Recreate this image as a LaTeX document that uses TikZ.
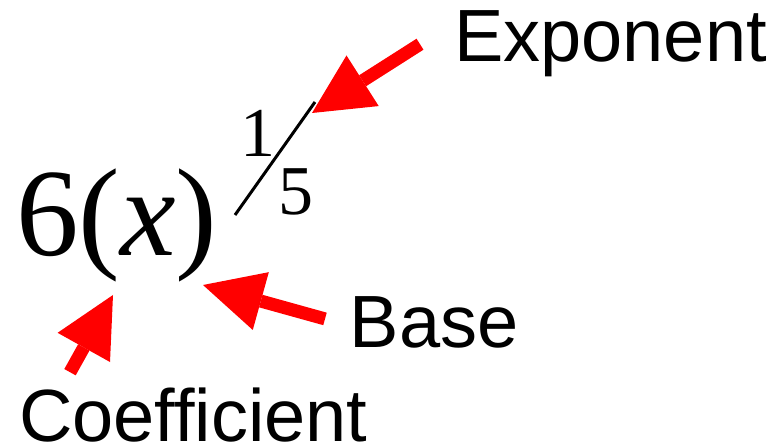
\documentclass[tikz,border=0pt]{standalone}
\usepackage{fontspec}
\setmainfont{Liberation Serif}
\setsansfont{Liberation Sans}
\usetikzlibrary{arrows.meta}

\begin{document}
\begin{tikzpicture}[
        x=1pt, y=1pt,
        every node/.style={inner sep=0pt, anchor=base west},
        lbl/.style={font=\sffamily\fontsize{74}{80}\selectfont},
        big/.style={font=\fontsize{125}{130}\selectfont},
        small/.style={font=\fontsize{70}{75}\selectfont},
        pointer/.style={draw=red, line width=13pt,
                        -{Triangle[length=60pt, width=60pt, line width=0pt]}}
    ]
        \useasboundingbox (0,0) rectangle (776,447);
        % the expression
        \node[big] (expr) at (16,191) {6(\textit{x})};
        \node[small] (num) at (240,290) {1};
        \node[small] (den) at (278,232) {5};
        \coordinate (slash-lo) at (235,232);
        \coordinate (slash-hi) at (315,345);
        \draw[line width=3pt] (slash-lo) -- (slash-hi);
        % the labels
        \node[lbl] (expo) at (454,385) {Exponent};
        \node[lbl] (base) at (349.5,99) {Base};
        \node[lbl] (coef) at (19,6) {Coefficient};
        % where the arrows point
        \coordinate (expo-tip) at (312,334);
        \coordinate (base-tip) at (203,162);
        \coordinate (coef-tip) at (113,152);
        \draw[pointer] ([xshift=-34pt]expo.west) -- (expo-tip);
        \draw[pointer] ([shift={(-24.5,4)}]base.west) -- (base-tip);
        \draw[pointer] ([shift={(51,15)}]coef.north west) -- (coef-tip);
    \end{tikzpicture}
\end{document}
